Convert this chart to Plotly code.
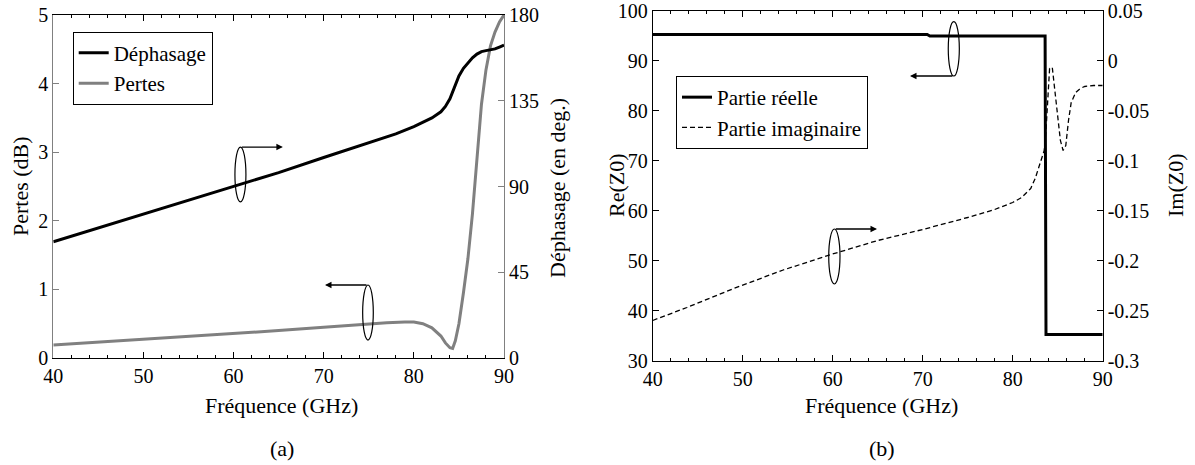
import plotly.graph_objects as go

# ---------------- data ----------------
freq_a = [40, 45, 50, 55, 60, 65, 70, 72, 74, 76, 78, 80, 81, 82, 83, 83.5, 84, 84.5,
          85, 85.5, 86, 86.5, 87, 87.5, 88, 88.5, 89, 89.5, 90]
dephasage = [61, 68.2, 75.3, 82.5, 89.8, 97.3, 105.2, 108.2, 111.2, 114.2, 117.6, 121.4,
             123.5, 126, 129.2, 132, 136, 142, 148, 152, 155, 157.5, 159.5, 160.8, 161.3,
             161.6, 162.2, 163.2, 164.2]

freq_p = [40, 45, 50, 55, 60, 65, 70, 75, 77, 79, 80, 81, 82, 83, 83.5, 84, 84.3, 84.6,
          85, 85.5, 86, 86.5, 87, 87.5, 88, 88.5, 89, 89.5, 90]
pertes = [0.19, 0.23, 0.27, 0.31, 0.35, 0.40, 0.45, 0.50, 0.515, 0.525, 0.525, 0.50, 0.44,
          0.32, 0.22, 0.15, 0.14, 0.25, 0.5, 0.95, 1.45, 2.1, 2.85, 3.7, 4.2, 4.55, 4.75,
          4.9, 5.0]

freq_re = [40, 70.5, 70.8, 83.6, 83.7, 86.0, 86.4, 86.8, 90]
re_z0 = [95.2, 95.2, 94.9, 94.9, 35.2, 35.2, 35.35, 35.2, 35.2]

freq_im = [40, 43.8, 49, 54.5, 60, 65, 70, 75, 78, 80, 81, 82, 82.5, 83, 83.5, 83.7, 83.9,
           84.1, 84.4, 84.7, 85, 85.3, 85.6, 85.9, 86.2, 86.5, 87, 87.5, 88, 89, 90]
im_z0 = [-0.260, -0.247, -0.228, -0.2095, -0.1935, -0.180, -0.169, -0.157, -0.149, -0.142,
         -0.137, -0.128, -0.118, -0.105, -0.090, -0.070, -0.035, -0.008, -0.007, -0.030,
         -0.055, -0.080, -0.090, -0.085, -0.060, -0.042, -0.032, -0.028, -0.026, -0.025,
         -0.025]

x_ticks = [40, 50, 60, 70, 80, 90]
pertes_ticks = [0, 1, 2, 3, 4, 5]
deph_ticks = [0, 45, 90, 135, 180]
re_ticks = [30, 40, 50, 60, 70, 80, 90, 100]
im_ticks = [-0.3, -0.25, -0.2, -0.15, -0.1, -0.05, 0, 0.05]
im_tick_text = ["-0.3", "-0.25", "-0.2", "-0.15", "-0.1", "-0.05", "0", "0.05"]

# ---------------- styling ----------------
FONT = "Liberation Serif, Times New Roman, DejaVu Serif, serif"
GRAY = "#808080"
W, H = 1195, 465

fig = go.Figure()
fig.add_trace(go.Scatter(x=freq_a, y=dephasage, name="Déphasage", mode="lines",
                         line=dict(color="black", width=3), xaxis="x", yaxis="y2",
                         legend="legend"))
fig.add_trace(go.Scatter(x=freq_p, y=pertes, name="Pertes", mode="lines",
                         line=dict(color=GRAY, width=3), xaxis="x", yaxis="y",
                         legend="legend"))
fig.add_trace(go.Scatter(x=freq_re, y=re_z0, name="Partie réelle", mode="lines",
                         line=dict(color="black", width=3), xaxis="x2", yaxis="y3",
                         legend="legend2"))
fig.add_trace(go.Scatter(x=freq_im, y=im_z0, name="Partie imaginaire", mode="lines",
                         line=dict(color="black", width=1.3, dash="5px,3px"),
                         xaxis="x2", yaxis="y4", legend="legend2"))

tickfont = dict(family=FONT, size=20, color="black")
xa_common = dict(range=[40, 90], tickvals=x_ticks, ticks="inside", ticklen=6,
                 tickcolor="black", showline=True, linecolor="black", linewidth=1,
                 mirror="ticks", showgrid=False, zeroline=False, tickfont=tickfont,
                 automargin=False, ticklabeloverflow="allow",
                 minor=dict(dtick=2, ticks="inside", ticklen=3, tickcolor="black",
                            showgrid=False))
ya_common = dict(ticks="inside", ticklen=6, showline=True, linewidth=1, showgrid=False,
                 zeroline=False, tickfont=tickfont, automargin=False,
                 ticklabeloverflow="allow")

dom_a = [53.3 / W, 504 / W]
dom_b = [652.7 / W, 1102.7 / W]
ydom_a = [1 - 358 / H, 1 - 15 / H]
ydom_b = [1 - 360.5 / H, 1 - 10.5 / H]

legend_font = dict(family=FONT, size=21, color="black")
fig.update_layout(
    width=W, height=H, margin=dict(l=0, r=0, t=0, b=0, pad=0, autoexpand=False),
    paper_bgcolor="white", plot_bgcolor="white",
    font=dict(family=FONT, size=20, color="black"),
    xaxis=dict(domain=dom_a, anchor="y", **xa_common),
    yaxis=dict(domain=ydom_a, anchor="x", range=[0, 5], tickvals=pertes_ticks,
               linecolor=GRAY, tickcolor=GRAY, **ya_common),
    yaxis2=dict(overlaying="y", anchor="x", side="right", range=[0, 180],
                tickvals=deph_ticks, linecolor=GRAY, tickcolor=GRAY, **ya_common),
    xaxis2=dict(domain=dom_b, anchor="y3", **xa_common),
    yaxis3=dict(domain=ydom_b, anchor="x2", range=[30, 100], tickvals=re_ticks,
                linecolor="black", tickcolor="black", **ya_common),
    yaxis4=dict(overlaying="y3", anchor="x2", side="right", range=[-0.3, 0.05],
                tickvals=im_ticks, ticktext=im_tick_text, linecolor="black",
                tickcolor="black", **ya_common),
    legend=dict(x=72.7 / W, y=1 - 31.7 / H, xanchor="left", yanchor="top",
                bordercolor="black", borderwidth=1, bgcolor="white",
                font=legend_font, itemwidth=30, tracegroupgap=0),
    legend2=dict(x=676 / W, y=1 - 76 / H, xanchor="left", yanchor="top",
                 bordercolor="black", borderwidth=1, bgcolor="white",
                 font=legend_font, itemwidth=30, tracegroupgap=0),
    showlegend=True,
)

# ---------------- annotation marks (ellipses + arrows) ----------------
shapes = [
    dict(type="circle", xref="x", yref="y2", x0=60.15, x1=61.37, y0=81.9, y1=110.7),
    dict(type="circle", xref="x", yref="y", x0=74.32, x1=75.5, y0=0.262, y1=1.064),
    dict(type="circle", xref="x2", yref="y3", x0=72.84, x1=74.07, y0=86.9, y1=97.76),
    dict(type="circle", xref="x2", yref="y4", x0=59.56, x1=60.81, y0=-0.2235, y1=-0.1685),
]
for s in shapes:
    s["line"] = dict(color="black", width=1.2)
fig.update_layout(shapes=shapes)

arrows = [
    ("x", "y2", 60.76, 110.7, 65.47, 110.7),
    ("x", "y", 74.91, 1.064, 70.14, 1.064),
    ("x2", "y3", 73.46, 86.9, 68.59, 86.9),
    ("x2", "y4", 60.18, -0.1685, 64.92, -0.1685),
]
for xr, yr, x0, y0, x1, y1 in arrows:
    fig.add_annotation(xref=xr, yref=yr, x=x1, y=y1, axref=xr, ayref=yr, ax=x0, ay=y0,
                       showarrow=True, arrowhead=2, arrowsize=1, arrowwidth=1.3,
                       arrowcolor="black", text="")

# ---------------- axis titles & captions ----------------
tfont = dict(family=FONT, size=22, color="black")
texts = [
    ("Pertes (dB)", 20, 186, -90),
    ("Déphasage (en deg.)", 557, 188, -90),
    ("Re(Z0)", 616, 185, -90),
    ("Im(Z0)", 1175, 185, -90),
    ("Fréquence (GHz)", 281, 405, 0),
    ("Fréquence (GHz)", 882, 405, 0),
    ("(a)", 282, 448, 0),
    ("(b)", 882, 448, 0),
]
for t, px, py, ang in texts:
    fig.add_annotation(xref="paper", yref="paper", x=px / W, y=1 - py / H, text=t,
                       showarrow=False, textangle=ang, font=tfont,
                       xanchor="center", yanchor="middle")

fig.write_html("out.html", config={"displayModeBar": False},
               post_script="document.body.style.margin='0';"
                           "document.body.style.overflow='hidden';")
